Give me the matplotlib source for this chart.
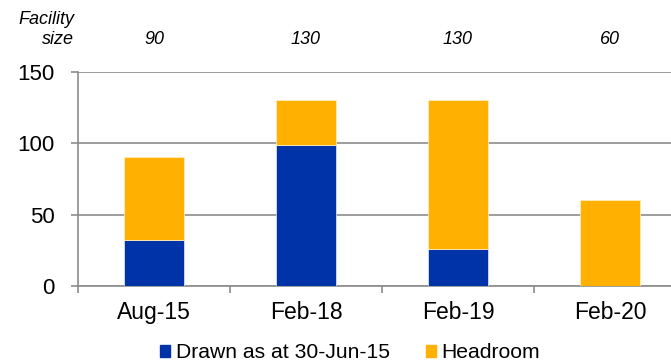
import matplotlib
matplotlib.use("Agg")
import matplotlib.pyplot as plt
from matplotlib.patches import Patch
from matplotlib.ticker import FixedLocator
from matplotlib.transforms import blended_transform_factory

plt.rcParams["font.family"] = ["Liberation Sans", "DejaVu Sans"]

# --- data ---
categories = ["Aug-15", "Feb-18", "Feb-19", "Feb-20"]
drawn = [32, 99, 26, 0]
headroom = [58, 31, 104, 60]
facility_size = ["90", "130", "130", "60"]
series_names = ["Drawn as at 30-Jun-15", "Headroom"]

BLUE = "#0033A8"
ORANGE = "#FFB000"
GREY = "#8C8C8C"

W, H = 671, 361
fig = plt.figure(figsize=(W / 100, H / 100), dpi=100)
# plot area runs slightly past the right edge, as in the source
ax = fig.add_axes([78 / W, (H - 286) / H, (686 - 78) / W, (286 - 71.7) / H])

x = list(range(len(categories)))
ax.bar(x, drawn, width=0.4, color=BLUE, edgecolor="#E8ECF5", linewidth=0.5, zorder=3)
ax.bar(x, headroom, width=0.4, bottom=drawn, color=ORANGE, edgecolor="#FFF0C8",
       linewidth=0.5, zorder=3)

ax.set_xlim(-0.5, len(categories) - 0.5)
ax.set_ylim(0, 150)
ax.set_yticks([0, 50, 100, 150])
ax.yaxis.grid(True, color=GREY, linewidth=1.2, zorder=0)
ax.set_axisbelow(True)

ax.set_xticks(x)
ax.set_xticklabels(categories, fontsize=16.5)
ax.xaxis.set_minor_locator(FixedLocator([i + 0.5 for i in range(-1, len(categories))]))
ax.tick_params(axis="x", which="major", length=0, pad=11)
ax.tick_params(axis="x", which="minor", length=5, width=1.2, color=GREY)
ax.tick_params(axis="y", length=5, width=1.2, color=GREY, labelsize=16, pad=12)

for side in ("top", "right"):
    ax.spines[side].set_visible(False)
for side in ("left", "bottom"):
    ax.spines[side].set_color(GREY)
    ax.spines[side].set_linewidth(1.2)

# facility size header row
fig.text(74 / W, 1 - 20 / H, "Facility", ha="right", va="center", style="italic", fontsize=13)
fig.text(74 / W, 1 - 40 / H, "size", ha="right", va="center", style="italic", fontsize=13)
trans = blended_transform_factory(ax.transData, fig.transFigure)
for xi, s in zip(x, facility_size):
    ax.text(xi, 1 - 39 / H, s, transform=trans, ha="center", va="center",
            style="italic", fontsize=13)

handles = [Patch(color=BLUE), Patch(color=ORANGE)]
fig.legend(handles, series_names, loc="center", bbox_to_anchor=(350 / W, 1 - 353 / H),
           ncol=2, frameon=False, fontsize=15.2, handlelength=0.5, handleheight=0.5,
           handletextpad=0.25, columnspacing=1.7, borderpad=0)

fig.savefig("out.png", dpi=100)
